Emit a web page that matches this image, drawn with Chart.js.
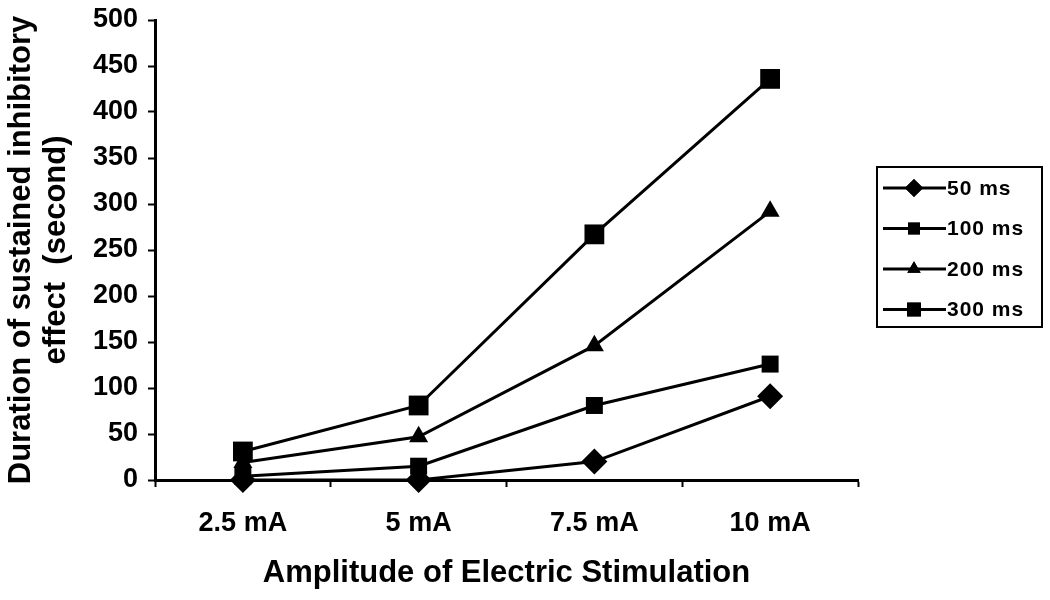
<!DOCTYPE html>
<html>
<head>
<meta charset="utf-8">
<title>Duration of sustained inhibitory effect</title>
<script src="https://cdn.jsdelivr.net/npm/chart.js@4.4.1/dist/chart.umd.min.js"></script>
<style>
    html, body { margin: 0; padding: 0; background: #fff; }
    #wrap { width: 1050px; height: 600px; }
</style>
</head>
<body>
<div id="wrap"><canvas id="chart" width="1050" height="600"></canvas></div>
<script>
// data
const categories = ['2.5 mA', '5 mA', '7.5 mA', '10 mA'];
const seriesLabels = ['50 ms', '100 ms', '200 ms', '300 ms'];
const ms50  = [0, 0, 20, 91];
const ms100 = [4, 15, 81, 126];
const ms200 = [19, 47, 146, 292];
const ms300 = [31, 81, 267, 436];
const yTicks = [0, 50, 100, 150, 200, 250, 300, 350, 400, 450, 500];

const FONT = '"Liberation Sans", Arial, sans-serif';

// marker look for each series
const markers = [
    { style: 'rectRot', radius: 13 },
    { style: 'rect', radius: 12 },
    { style: 'triangle', radius: 11 },
    { style: 'rect', radius: 14 }
];

function makeSet(label, data, i) {
    return {
        label: label,
        data: data,
        borderColor: '#000',
        backgroundColor: '#000',
        borderWidth: 3,
        pointStyle: markers[i].style,
        pointRadius: markers[i].radius,
        pointHoverRadius: markers[i].radius,
        pointBorderWidth: 0,
        tension: 0,
        clip: false
    };
}

// legend in a bordered box, drawn to the right of the plot
const boxLegend = {
    id: 'boxLegend',
    afterDraw(chart) {
        const ctx = chart.ctx;
        const x = 877, y = 167, w = 165, h = 160;
        ctx.save();
        ctx.strokeStyle = '#000';
        ctx.lineWidth = 2;
        ctx.strokeRect(x, y, w, h);
        ctx.font = 'bold 21px ' + FONT;
        ctx.letterSpacing = '1px';
        ctx.textBaseline = 'middle';
        ctx.fillStyle = '#000';
        chart.data.datasets.forEach((ds, i) => {
            const cy = 188 + i * 40.5;
            ctx.beginPath();
            ctx.lineWidth = 3;
            ctx.moveTo(883, cy);
            ctx.lineTo(946, cy);
            ctx.stroke();
            Chart.helpers.drawPoint(ctx, {
                pointStyle: ds.pointStyle,
                radius: ds.pointRadius * 0.7,
                rotation: 0,
                borderWidth: 0
            }, 914, cy);
            ctx.fill();
            ctx.fillText(ds.label, 947, cy + 1);
        });
        ctx.restore();
    }
};

new Chart(document.getElementById('chart'), {
    type: 'line',
    data: {
        labels: categories,
        datasets: [
            makeSet(seriesLabels[0], ms50, 0),
            makeSet(seriesLabels[1], ms100, 1),
            makeSet(seriesLabels[2], ms200, 2),
            makeSet(seriesLabels[3], ms300, 3)
        ]
    },
    plugins: [boxLegend],
    options: {
        responsive: false,
        animation: false,
        layout: { padding: { top: 20, right: 192, left: 0, bottom: 0 } },
        plugins: {
            legend: { display: false },
            tooltip: { enabled: false }
        },
        scales: {
            x: {
                offset: true,
                grid: {
                    offset: true,
                    drawOnChartArea: false,
                    drawTicks: true,
                    tickLength: 7,
                    tickWidth: 2,
                    color: '#000'
                },
                border: { color: '#000', width: 3 },
                ticks: {
                    color: '#000',
                    padding: 20,
                    font: { family: FONT, size: 27, weight: 'bold' }
                },
                title: {
                    display: true,
                    text: 'Amplitude of Electric Stimulation',
                    color: '#000',
                    padding: { top: 0, bottom: 8 },
                    font: { family: FONT, size: 31, weight: 'bold' }
                },
                afterFit(scale) { scale.height = 120; }
            },
            y: {
                min: 0,
                max: 500,
                afterBuildTicks(scale) { scale.ticks = yTicks.map(v => ({ value: v })); },
                grid: {
                    drawOnChartArea: false,
                    drawTicks: true,
                    tickLength: 7,
                    tickWidth: 2,
                    color: '#000'
                },
                border: { color: '#000', width: 3 },
                ticks: {
                    color: '#000',
                    padding: 10,
                    font: { family: FONT, size: 27, weight: 'bold' }
                },
                title: {
                    display: true,
                    text: ['Duration of sustained inhibitory', 'effect  (second)'],
                    color: '#000',
                    padding: { top: 3, bottom: 0 },
                    font: { family: FONT, size: 31, weight: 'bold', lineHeight: 1.16 }
                },
                afterFit(scale) {
                    scale.width = 155;
                    scale.paddingTop = 0;
                }
            }
        }
    }
});
</script>
</body>
</html>
